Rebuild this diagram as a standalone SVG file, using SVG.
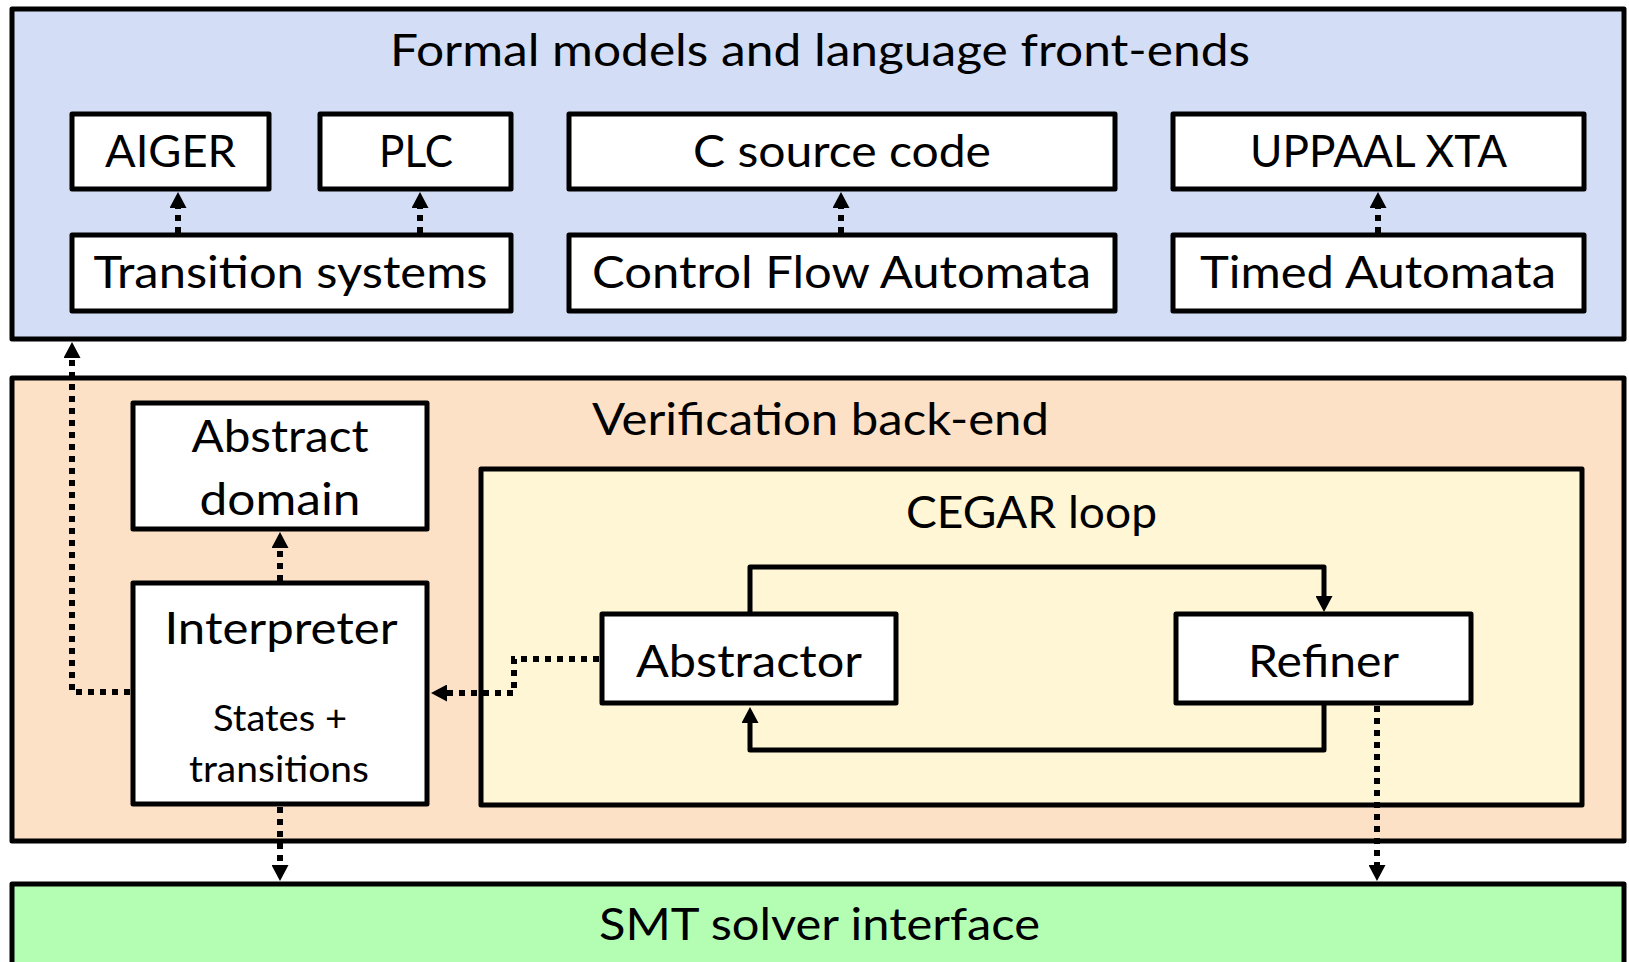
<svg xmlns="http://www.w3.org/2000/svg" width="1629" height="962" viewBox="0 0 1629 962">
  <style>
    text { font-family: Lato, "Open Sans", "Noto Sans", sans-serif; fill: #000; text-anchor: middle; }
    .big { font-size: 45px; }
    .small { font-size: 37px; }
    .panel { stroke: #000; stroke-width: 5; stroke-linejoin: round; }
    .box { fill: #fff; stroke: #000; stroke-width: 5; stroke-linejoin: round; }
    .dot { fill: none; stroke: #000; stroke-width: 6; stroke-dasharray: 6 6; }
    .solid { fill: none; stroke: #000; stroke-width: 5; stroke-linejoin: round; }
  </style>
  <defs>
    <marker id="head" markerUnits="userSpaceOnUse" viewBox="0 0 16 17" markerWidth="16" markerHeight="17" refX="1" refY="8.5" orient="auto">
      <path d="M0,0 L16,8.5 L0,17 z" fill="#000"/>
    </marker>
  </defs>

  <rect width="1629" height="962" fill="#fff"/>

  <!-- layers -->
  <g id="frontends">
    <rect class="panel" x="12" y="9" width="1612" height="330" fill="#D3DDF5"/>
    <text class="big" x="820" y="66" textLength="860" lengthAdjust="spacingAndGlyphs">Formal models and language front-ends</text>
  </g>
  <g id="backend">
    <rect class="panel" x="12" y="378" width="1612" height="463" fill="#FDE1C6"/>
    <text class="big" x="820.5" y="435" textLength="457" lengthAdjust="spacingAndGlyphs">Verification back-end</text>
  </g>
  <g id="cegar">
    <rect class="panel" x="481" y="469" width="1101" height="336" fill="#FFF6D5"/>
    <text class="big" x="1031.5" y="528" textLength="251" lengthAdjust="spacingAndGlyphs">CEGAR loop</text>
  </g>
  <g id="smt">
    <rect class="panel" x="12" y="884" width="1612" height="100" fill="#B4FEB4"/>
    <text class="big" x="819.5" y="940" textLength="441" lengthAdjust="spacingAndGlyphs">SMT solver interface</text>
  </g>

  <!-- front-end nodes -->
  <g id="aiger">
    <rect class="box" x="72" y="114" width="197" height="75"/>
    <text class="big" x="170.5" y="167" textLength="131" lengthAdjust="spacingAndGlyphs">AIGER</text>
  </g>
  <g id="plc">
    <rect class="box" x="320" y="114" width="191" height="75"/>
    <text class="big" x="416" y="167" textLength="74" lengthAdjust="spacingAndGlyphs">PLC</text>
  </g>
  <g id="csource">
    <rect class="box" x="569" y="114" width="546" height="75"/>
    <text class="big" x="842" y="167" textLength="298" lengthAdjust="spacingAndGlyphs">C source code</text>
  </g>
  <g id="uppaal">
    <rect class="box" x="1173" y="114" width="411" height="75"/>
    <text class="big" x="1378.5" y="167" textLength="257" lengthAdjust="spacingAndGlyphs">UPPAAL XTA</text>
  </g>
  <g id="ts">
    <rect class="box" x="72" y="235" width="439" height="76"/>
    <text class="big" x="290.5" y="288" textLength="394" lengthAdjust="spacingAndGlyphs">Transition systems</text>
  </g>
  <g id="cfa">
    <rect class="box" x="569" y="235" width="546" height="76"/>
    <text class="big" x="841.5" y="288" textLength="499" lengthAdjust="spacingAndGlyphs">Control Flow Automata</text>
  </g>
  <g id="ta">
    <rect class="box" x="1173" y="235" width="411" height="76"/>
    <text class="big" x="1378" y="288" textLength="356" lengthAdjust="spacingAndGlyphs">Timed Automata</text>
  </g>

  <!-- back-end nodes -->
  <g id="domain">
    <rect class="box" x="133" y="403" width="294" height="126"/>
    <text class="big" x="280" y="452" textLength="177" lengthAdjust="spacingAndGlyphs">Abstract</text>
    <text class="big" x="280" y="515" textLength="161" lengthAdjust="spacingAndGlyphs">domain</text>
  </g>
  <g id="interpreter">
    <rect class="box" x="133" y="583" width="294" height="221"/>
    <text class="big" x="281" y="644" textLength="233" lengthAdjust="spacingAndGlyphs">Interpreter</text>
    <text class="small" x="280" y="731" textLength="134" lengthAdjust="spacingAndGlyphs">States +</text>
    <text class="small" x="279" y="782" textLength="180" lengthAdjust="spacingAndGlyphs">transitions</text>
  </g>
  <g id="abstractor">
    <rect class="box" x="602" y="614" width="294" height="89"/>
    <text class="big" x="749" y="677" textLength="226" lengthAdjust="spacingAndGlyphs">Abstractor</text>
  </g>
  <g id="refiner">
    <rect class="box" x="1176" y="614" width="295" height="89"/>
    <text class="big" x="1323.5" y="677" textLength="151" lengthAdjust="spacingAndGlyphs">Refiner</text>
  </g>

  <!-- connectors -->
  <g id="connectors">
    <path class="dot" d="M178,233 V207" marker-end="url(#head)"/>
    <path class="dot" d="M420,233 V207" marker-end="url(#head)"/>
    <path class="dot" d="M841,233 V207" marker-end="url(#head)"/>
    <path class="dot" d="M1378,233 V207" marker-end="url(#head)"/>
    <path class="dot" d="M280,581 V547" marker-end="url(#head)"/>
    <path class="dot" d="M130,692 H72 V357" marker-end="url(#head)"/>
    <path class="dot" d="M599,659 H514 V693 H446" marker-end="url(#head)"/>
    <path class="dot" d="M280,807 V866" marker-end="url(#head)"/>
    <path class="dot" d="M1377,706 V866" marker-end="url(#head)"/>
    <path class="solid" d="M750,612 V567 H1324 V597" marker-end="url(#head)"/>
    <path class="solid" d="M1324,705 V750 H750 V722" marker-end="url(#head)"/>
  </g>
</svg>
